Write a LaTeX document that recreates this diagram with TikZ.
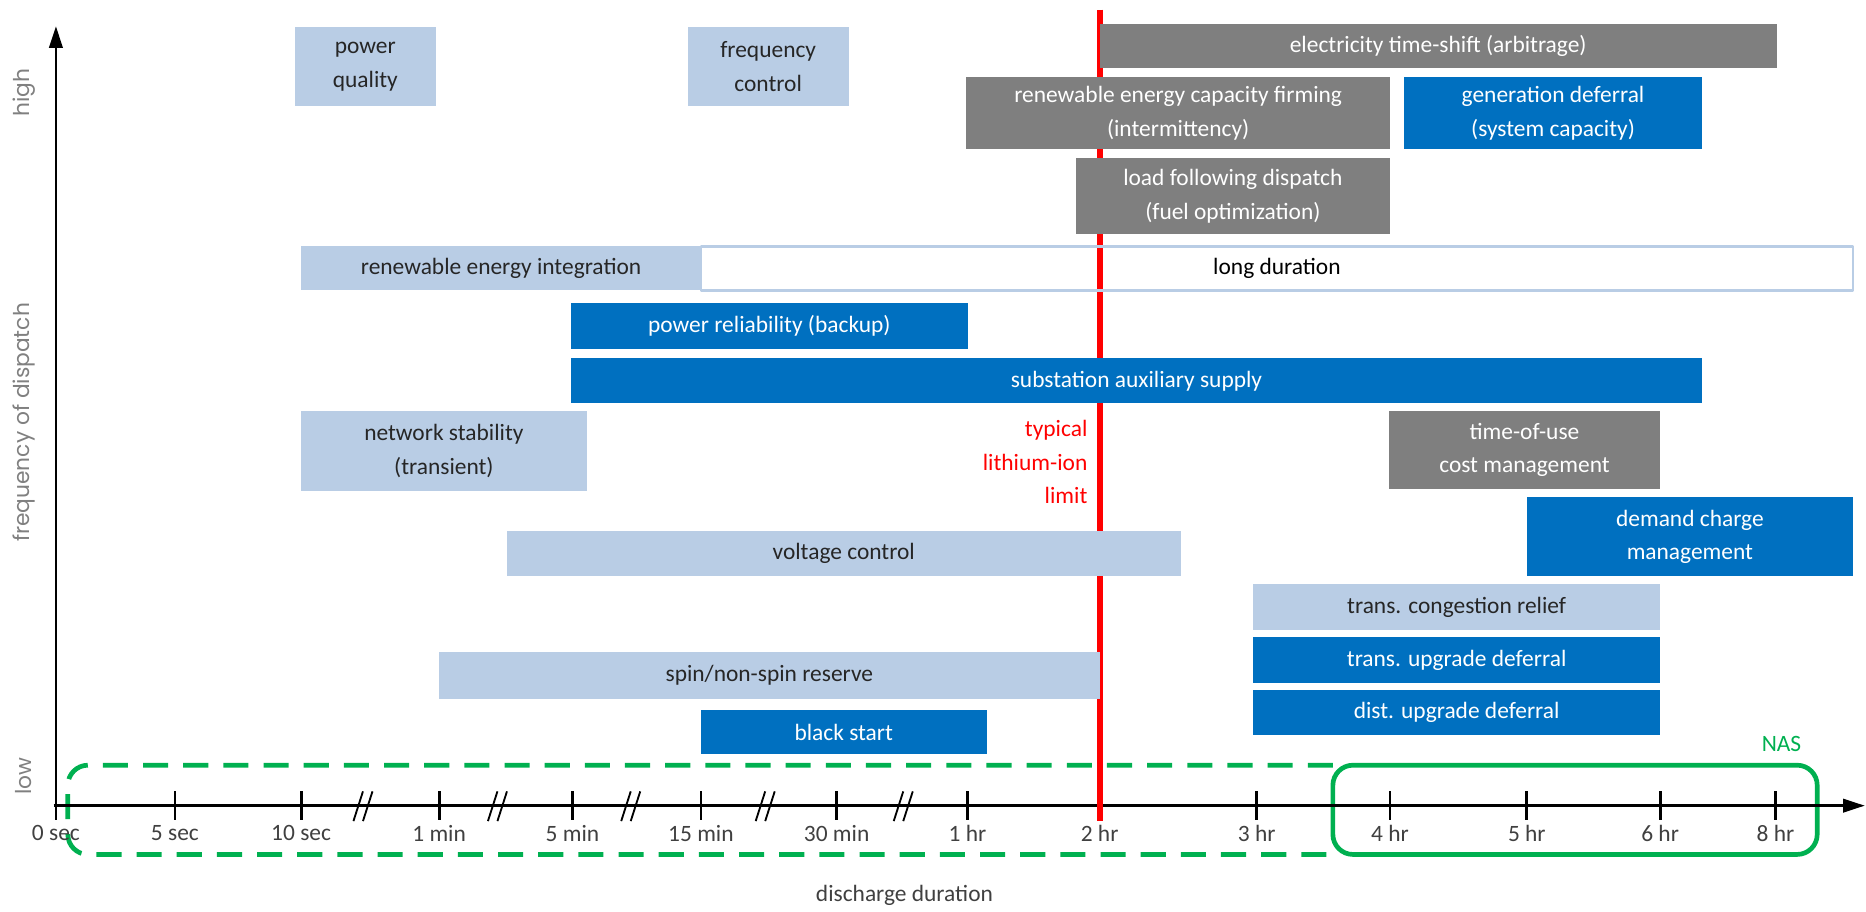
\documentclass[tikz,border=0pt]{standalone}
\usepackage{fontspec}
\setmainfont{Carlito}
\newfontfamily\axisfont{Poppins}
\usetikzlibrary{arrows.meta}
\definecolor{svclight}{HTML}{B9CDE5}
\definecolor{svcgrey}{HTML}{7F7F7F}
\definecolor{svcblue}{HTML}{0070C0}
\definecolor{nasgreen}{HTML}{00B050}
\definecolor{axisgrey}{HTML}{404040}

\begin{document}
\begin{tikzpicture}[x=0.025cm,y=-0.025cm,>={Triangle[length=13pt,width=8pt]},line join=round,
  every node/.style={font=\fontsize{14}{20}\selectfont},
  span/.style args={#1/#2/#3/#4}{minimum width={(#3-#1)*0.025cm},minimum height={(#4-#2)*0.025cm},at={({(#1+#3)/2},{(#2+#4)/2})}},
  svc/.style={inner sep=0pt,outer sep=0pt,align=center},
  lightsvc/.style={svc,fill=svclight,text=black!85},
  greysvc/.style={svc,fill=svcgrey,text=white},
  bluesvc/.style={svc,fill=svcblue,text=white},
  tickmark/.style={line width=1.7pt},
  brkmark/.style={line width=1.1pt},
  ticklabel/.style={text=axisgrey},
  axistitle/.style={font=\axisfont\fontsize{13}{16}\selectfont,text=black!50},
  nasline/.style={nasgreen,line width=2.8pt}]
\useasboundingbox (0,0) rectangle (1568,766);
% NAS range
\draw[nasline,dash pattern=on 15pt off 9pt,rounded corners=12] (1120,643) -- (57,643) -- (57,718) -- (1120,718);
\draw[nasline,rounded corners=12] (1120,643) rectangle (1527,718);
\node[text=nasgreen] (nas) at (1497,625) {NAS};
% axes
\draw[->,line width=1.6pt] (47,681) -- (47,22);
\draw[->,line width=1.6pt] (45,677) -- (1567,677);
\foreach \x/\lab in {47/0 sec,147/5 sec,253/10 sec,369/1 min,481/5 min,589/15 min,703/30 min,813/1 hr,924/2 hr,1056/3 hr,1168/4 hr,1283/5 hr,1395/6 hr,1492/8 hr}{
  \draw[tickmark] (\x,665) -- (\x,689);
  \node[ticklabel] (lab\x) at (\x,700) {\lab};
}
\foreach \x in {305,418,530,643,759}{
  \draw[brkmark] (\x-8,690) -- (\x,665);
  \draw[brkmark] (\x,690) -- (\x+8,665);
}
\node[ticklabel] (dur) at (760,752) {discharge duration};
\node[axistitle,rotate=90] (freq) at (20,355) {frequency of dispatch};
\node[axistitle,rotate=90] (high) at (20,78) {high};
\node[axistitle,rotate=90] (low) at (20,652) {low};
% lithium-ion limit
\draw[red,line width=3.5pt] (924,8) -- (924,690);
\node[anchor=north east,inner sep=0pt,align=right,text=red] (liion) at (914,353) {typical\\lithium-ion\\limit};
% services
\node[lightsvc,span=248/23/366/89] (pq) {power\\quality};
\node[lightsvc,span=578/23/713/89] (fc) {frequency\\control};
\node[greysvc,span=924/20/1493/57] (ets) {electricity time-shift (arbitrage)};
\node[greysvc,span=812/65/1168/125] (recf) {renewable energy capacity firming\\(intermittency)};
\node[bluesvc,span=1180/65/1430/125] (gd) {generation deferral\\(system capacity)};
\node[greysvc,span=904/133/1168/197] (lfd) {load following dispatch\\(fuel optimization)};
\node[lightsvc,span=253/207/589/244] (rei) {renewable energy integration};
\node[svc,draw=svclight,line width=1.5pt,span=589/207/1557/244] (ld) {long duration};
\node[bluesvc,span=480/255/813/293] (prb) {power reliability (backup)};
\node[bluesvc,span=480/301/1430/339] (sas) {substation auxiliary supply};
\node[lightsvc,span=253/345/493/413] (ns) {network stability\\(transient)};
\node[greysvc,span=1167/345/1395/411] (tou) {time-of-use\\cost management};
\node[bluesvc,span=1283/418/1557/484] (dcm) {demand charge\\management};
\node[lightsvc,span=426/446/992/484] (vc) {voltage control};
\node[lightsvc,span=1053/491/1395/529] (tcr) {trans. congestion relief};
\node[bluesvc,span=1053/535/1395/574] (tud) {trans. upgrade deferral};
\node[lightsvc,span=369/548/924/587] (snr) {spin/non-spin reserve};
\node[bluesvc,span=1053/580/1395/618] (dud) {dist. upgrade deferral};
\node[bluesvc,span=589/597/829/634] (bs) {black start};
\end{tikzpicture}
\end{document}
